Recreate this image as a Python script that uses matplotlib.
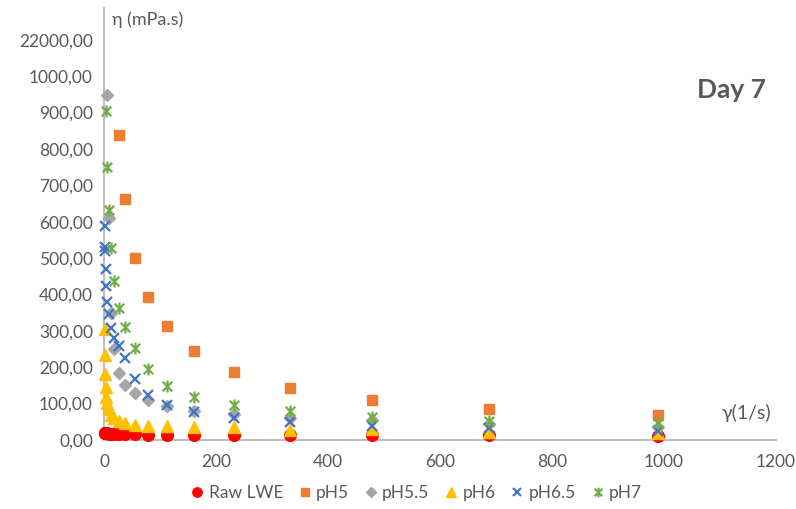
import matplotlib
matplotlib.use("Agg")
import matplotlib.pyplot as plt
from matplotlib.path import Path
from matplotlib.lines import Line2D

# Shear rate (1/s)
shear = [1.0, 1.45, 2.1, 3.0, 4.3, 6.2, 8.9, 12.8, 18.4, 26.5,
         38, 54.5, 78, 112, 161, 232, 333, 479, 687, 989]

# Viscosity (mPa.s) per sample, day 7
raw_lwe = [20, 20, 19, 19, 18, 18, 17, 17, 17, 16,
           16, 16, 15, 15, 15, 14, 14, 13, 13, 12]
ph5_x = [26.5, 38, 54.5, 78, 112, 161, 232, 333, 479, 687, 989]
ph5 = [839, 661, 500, 392, 312, 244, 186, 142, 110, 85, 69]
ph55_x = [6.2, 8.9, 12.8, 18.4, 26.5, 38, 54.5, 78, 112, 161, 232, 333, 479, 687, 989]
ph55 = [948, 611, 348, 250, 185, 151, 128, 110, 94, 81, 71, 60, 55, 44, 35]
ph6 = [304, 234, 181, 146, 119, 101, 84, 69, 60, 52,
       48, 41, 38, 38, 37, 35, 28, 30, 23, 18]
ph65 = [588, 531, 520, 470, 424, 378, 345, 307, 279, 258,
        226, 168, 124, 96, 76, 60, 49, 38, 32, 26]
ph7_x = [4.3, 6.2, 8.9, 12.8, 18.4, 26.5, 38, 54.5, 78, 112, 161, 232, 333, 479, 687, 989]
ph7 = [904, 751, 632, 527, 436, 364, 311, 252, 194, 148, 117, 96, 80, 64, 52, 46]

y_ticks = [0, 100, 200, 300, 400, 500, 600, 700, 800, 900, 1000, 1100]
y_labels = ["0,00", "100,00", "200,00", "300,00", "400,00", "500,00",
            "600,00", "700,00", "800,00", "900,00", "1000,00", "22000,00"]
x_ticks = [0, 200, 400, 600, 800, 1000, 1200]

plt.rcParams['font.family'] = ['Lato', 'DejaVu Sans']
grey_txt = '#595959'
axis_col = '#BFBFBF'

# asterisk-like marker: X with a vertical stroke
star = Path([(-1, -1), (1, 1), (-1, 1), (1, -1), (0, -1.25), (0, 1.25)],
            [Path.MOVETO, Path.LINETO, Path.MOVETO, Path.LINETO, Path.MOVETO, Path.LINETO])

fig = plt.figure(figsize=(7.96, 5.09), dpi=100)
ax = fig.add_axes([104 / 796, 1 - 440 / 509, 672 / 796, 432 / 509])

series = [
    (shear, raw_lwe, 'Raw LWE', dict(marker='o', color='#FF0000', ms=8.4, mec='#FF0000')),
    (ph5_x, ph5, 'pH5', dict(marker='s', color='#ED7D31', ms=7.8, mec='#ED7D31')),
    (ph55_x, ph55, 'pH5.5', dict(marker='D', color='#A5A5A5', ms=6.4, mec='#A5A5A5')),
    (shear, ph6, 'pH6', dict(marker='^', color='#FFC000', ms=8.6, mec='#FFC000')),
    (shear, ph65, 'pH6.5', dict(marker='x', color='#4472C4', ms=7.0, mew=1.6)),
    (ph7_x, ph7, 'pH7', dict(marker=star, color='#70AD47', ms=8.6, mew=1.6, mfc='none')),
]
handles = []
for xs, ys, name, st in series:
    ax.plot(xs, ys, ls='none', label=name, clip_on=False, zorder=3, **st)
    hst = dict(st)
    hst['ms'] = st['ms'] * 0.8
    handles.append(Line2D([], [], ls='none', label=name, **hst))

ax.set_xlim(0, 1200)
ax.set_ylim(0, 1187)
ax.set_xticks(x_ticks)
ax.set_xticklabels([str(v) for v in x_ticks])
ax.set_yticks(y_ticks)
ax.set_yticklabels(y_labels)
ax.tick_params(length=0, colors=grey_txt, labelsize=12.5)
ax.tick_params(axis='y', pad=8)
ax.tick_params(axis='x', pad=10)
for s in ['top', 'right']:
    ax.spines[s].set_visible(False)
for s in ['left', 'bottom']:
    ax.spines[s].set_color(axis_col)
    ax.spines[s].set_linewidth(1.5)
    ax.spines[s].set_zorder(2)

fig.text(112 / 796, 1 - 20 / 509, 'η (mPa.s)', color=grey_txt, fontsize=13, va='center', ha='left')
fig.text(722 / 796, 1 - 413 / 509, 'γ(1/s)', color=grey_txt, fontsize=14, va='center', ha='left')
fig.text(766 / 796, 1 - 90 / 509, 'Day 7', color=grey_txt, fontsize=19, fontweight='bold',
         va='center', ha='right')

fig.legend(handles=handles, loc='center', bbox_to_anchor=(414 / 796, 1 - 493 / 509), ncol=6,
           frameon=False, fontsize=12.5, handletextpad=0.0, columnspacing=0.6,
           handlelength=1.3, labelcolor=grey_txt)

fig.savefig('out.png', dpi=100)
